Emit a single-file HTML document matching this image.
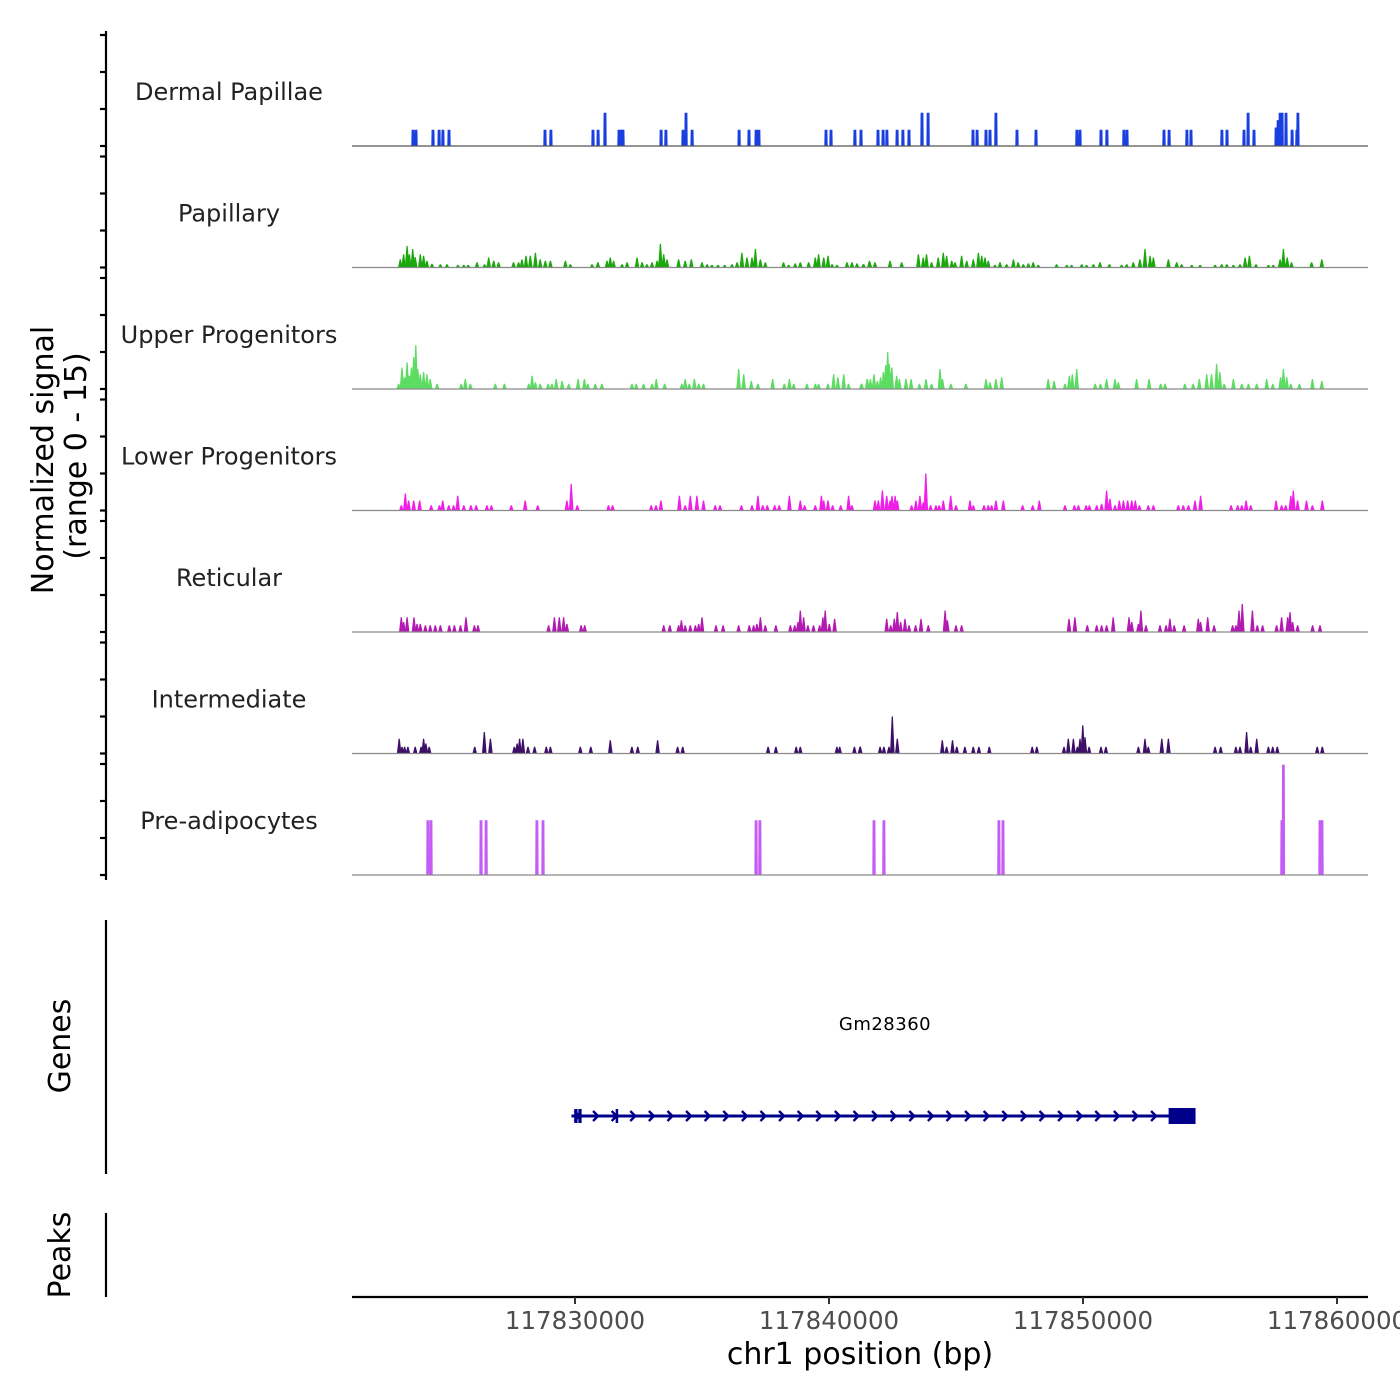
<!DOCTYPE html>
<html><head><meta charset="utf-8"><style>
html,body{margin:0;padding:0;background:#fff;}
svg{display:block;font-family:"DejaVu Sans","Liberation Sans",sans-serif;}
</style></head><body>
<svg id="chart" width="1400" height="1400" viewBox="0 0 1400 1400" xmlns="http://www.w3.org/2000/svg">
<g id="tracks"></g>
<g id="yaxis">
<line x1="106" y1="31" x2="106" y2="880" stroke="#000" stroke-width="2.2"/>
</g>
<text transform="translate(53,460) rotate(-90)" text-anchor="middle" font-size="30" fill="#000">Normalized signal</text>
<text transform="translate(86,456) rotate(-90)" text-anchor="middle" font-size="30" fill="#000">(range 0 - 15)</text>
<g>
<line x1="106" y1="920" x2="106" y2="1174" stroke="#000" stroke-width="2.2"/>
<text transform="translate(70,1046) rotate(-90)" text-anchor="middle" font-size="30">Genes</text>
<text x="885" y="1030" text-anchor="middle" font-size="18" fill="#000" letter-spacing="0.5">Gm28360</text>
<g id="gene"></g>
</g>
<g>
<line x1="106" y1="1213" x2="106" y2="1297" stroke="#000" stroke-width="2.2"/>
<text transform="translate(70,1255) rotate(-90)" text-anchor="middle" font-size="30">Peaks</text>
</g>
<g id="xaxis">
<line x1="352" y1="1297" x2="1368" y2="1297" stroke="#000" stroke-width="2.2"/>
</g>
<text x="860" y="1364" text-anchor="middle" font-size="30" fill="#000">chr1 position (bp)</text>
</svg>
<script>
// positions are kb offsets from 117,820,000 bp; values are normalized signal
const trackNames = ["Dermal Papillae","Papillary","Upper Progenitors","Lower Progenitors","Reticular","Intermediate","Pre-adipocytes"];
const trackColors = ["#1a3fe0","#1aa80c","#5ddc63","#f01ee8","#b21ab2","#3d0f68","#c45cf5"];
const xTicks = [117830000,117840000,117850000,117860000];

const dermalPos = [3.62,3.74,4.41,4.65,4.80,5.04,8.82,9.05,10.71,10.91,11.18,11.73,11.81,11.89,13.39,13.58,14.25,14.37,14.61,16.46,16.85,17.13,17.24,19.88,20.08,21.02,21.26,21.93,22.13,22.28,22.68,22.91,23.15,23.66,23.90,25.67,25.83,26.18,26.34,26.57,27.40,28.15,29.76,29.88,30.71,30.94,31.61,31.73,33.19,33.39,34.09,34.25,35.47,35.67,36.34,36.50,36.73,37.60,37.68,37.76,37.84,37.99,38.23,38.42,38.46];
const dermalVal = [2.2,2.2,2.2,2.2,2.2,2.2,2.2,2.2,2.2,2.2,4.5,2.2,2.2,2.2,2.2,2.2,2.2,4.5,2.2,2.2,2.2,2.2,2.2,2.2,2.2,2.2,2.2,2.2,2.2,2.2,2.2,2.2,2.2,4.5,4.5,2.2,2.2,2.2,2.2,4.5,2.2,2.2,2.2,2.2,2.2,2.2,2.2,2.2,2.2,2.2,2.2,2.2,2.2,2.2,2.2,4.5,2.2,2.5,3.5,4.5,4.5,4.5,2.2,2.2,4.5];

const papPos = [3.12,3.25,3.39,3.48,3.61,3.71,3.91,4.04,4.17,4.37,4.70,4.96,5.39,5.62,5.79,6.14,6.44,6.60,6.80,6.99,7.58,7.78,7.91,8.07,8.24,8.44,8.63,8.83,9.03,9.62,9.82,10.67,10.90,11.26,11.39,11.52,11.85,12.05,12.44,12.64,12.83,13.03,13.23,13.36,13.49,13.62,14.08,14.34,14.58,15.00,15.20,15.39,15.63,15.89,16.18,16.38,16.57,16.77,16.97,17.10,17.30,17.49,18.21,18.41,18.67,18.87,19.20,19.46,19.59,19.79,19.96,20.12,20.31,20.71,20.90,21.10,21.36,21.59,21.35,21.61,21.81,22.40,22.86,23.52,23.71,23.84,24.04,24.30,24.50,24.63,24.83,24.96,25.22,25.42,25.68,25.88,26.01,26.14,26.27,26.53,26.73,26.99,27.26,27.45,27.65,27.85,28.04,28.24,28.96,29.36,29.55,29.95,30.14,30.41,30.67,31.04,31.52,31.72,31.98,32.24,32.44,32.64,32.77,33.36,33.69,33.88,34.28,34.61,35.20,35.46,35.66,35.92,36.18,36.38,36.55,36.81,37.30,37.49,37.76,37.89,38.04,38.21,39.00,39.40];
const papVal = [1.1,1.8,2.9,1.8,2.5,1.4,1.8,1.6,0.9,0.5,0.45,0.45,0.35,0.35,0.35,0.7,0.45,1.35,0.9,0.7,0.7,0.7,1.1,1.6,1.6,2.0,1.1,0.9,0.9,0.9,0.45,0.45,0.7,0.9,1.35,0.9,0.45,0.7,1.35,0.7,0.45,0.7,0.9,3.2,1.8,1.1,1.1,0.9,1.1,0.7,0.45,0.35,0.35,0.35,0.45,0.7,2.0,1.35,1.35,2.5,1.1,0.7,0.7,0.35,0.55,0.7,0.7,1.35,1.8,1.35,1.6,0.45,0.35,0.7,0.7,0.55,0.45,0.9,0.45,0.7,0.7,0.9,0.7,1.8,1.35,1.8,0.7,1.35,2.0,1.6,0.9,0.7,1.6,0.9,1.1,2.0,1.6,1.35,0.9,0.35,0.7,0.45,1.1,0.7,0.45,0.55,0.7,0.35,0.45,0.35,0.35,0.45,0.35,0.45,0.7,0.45,0.35,0.45,0.7,1.1,2.5,1.6,1.35,1.1,0.7,0.45,0.35,0.35,0.35,0.45,0.45,0.35,0.45,1.35,1.6,0.45,0.35,0.35,1.1,2.5,1.35,0.7,0.7,1.1];

const upperPos = [3.06,3.19,3.29,3.39,3.48,3.56,3.65,3.73,3.81,3.91,4.04,4.17,4.30,4.57,5.52,5.68,5.88,6.86,7.22,8.18,8.31,8.44,8.63,8.94,9.09,9.26,9.49,9.75,10.12,10.37,10.50,10.80,11.06,12.24,12.41,12.70,13.03,13.20,13.53,14.21,14.34,14.50,14.70,14.87,15.06,16.44,16.64,16.94,17.20,17.78,18.24,18.44,18.61,19.13,19.46,19.59,19.96,20.18,20.35,20.58,20.77,21.27,21.50,21.63,21.29,21.51,21.77,21.90,22.03,22.14,22.23,22.31,22.37,22.47,22.66,22.77,23.03,23.23,23.56,23.82,24.04,24.37,24.47,24.80,25.39,26.18,26.34,26.57,26.80,28.63,28.86,29.29,29.46,29.58,29.75,30.48,30.69,30.93,31.26,31.39,32.11,32.60,33.06,33.23,34.01,34.34,34.58,34.87,35.06,35.26,35.39,35.56,35.92,36.25,36.51,36.84,37.23,37.47,37.78,37.89,38.02,38.18,38.52,39.03,39.40];
const upperVal = [0.7,2.9,1.6,3.6,1.8,2.9,4.3,5.9,2.7,2.0,2.3,2.0,1.35,0.7,0.7,1.35,0.7,0.7,0.7,0.7,1.8,0.9,0.7,0.7,0.7,1.35,1.1,0.7,1.35,1.35,0.7,0.7,0.7,0.7,0.7,0.7,0.7,1.35,0.7,0.7,1.35,0.7,1.35,0.7,0.7,2.7,2.0,1.1,0.7,1.35,0.7,1.35,0.7,0.7,0.7,0.7,0.7,2.0,1.6,2.0,0.7,0.7,1.35,1.35,0.7,1.35,2.0,1.1,1.6,2.3,3.2,5.0,3.4,2.9,1.8,1.35,1.35,1.35,0.7,1.35,0.7,2.7,1.35,0.7,0.7,1.35,0.9,1.35,1.6,1.35,1.1,0.7,1.8,2.0,2.7,0.7,0.7,1.35,1.35,0.9,1.35,1.35,0.7,0.7,0.7,0.7,1.35,2.0,2.0,3.4,2.3,0.7,1.35,0.7,0.7,0.7,1.35,0.7,1.6,2.7,1.6,0.7,0.7,1.35,1.1];

const lowerPos = [3.16,3.32,3.45,3.65,3.88,4.34,4.66,4.79,5.03,5.22,5.38,5.62,5.90,6.11,6.53,6.71,7.49,8.04,8.53,9.68,9.85,10.09,11.32,11.48,13.00,13.19,13.38,14.11,14.34,14.54,14.80,15.06,15.52,15.71,16.55,16.97,17.20,17.39,17.57,17.86,18.04,18.44,18.87,19.04,19.46,19.70,19.79,19.96,20.14,20.46,20.77,20.90,21.81,21.94,22.10,22.27,22.40,22.48,22.60,22.69,23.25,23.42,23.58,23.71,23.81,24.00,24.21,24.34,24.50,24.79,25.00,25.55,25.68,26.10,26.27,26.40,26.57,26.86,27.62,28.02,28.28,29.29,29.66,29.82,30.12,30.25,30.54,30.73,30.93,31.06,31.26,31.43,31.59,31.76,31.92,32.06,32.22,32.57,32.77,33.75,33.95,34.15,34.41,34.63,35.83,36.09,36.25,36.42,36.60,37.60,37.82,37.98,38.18,38.28,38.45,38.80,39.03,39.42];
const lowerVal = [0.7,2.3,1.35,1.35,1.35,0.7,0.7,1.35,0.7,0.7,2.0,0.7,0.7,0.7,0.7,0.7,0.7,1.35,0.7,1.35,3.6,0.7,0.7,0.7,0.7,0.7,1.35,2.0,0.7,2.0,2.0,1.35,0.7,0.7,0.7,0.7,2.0,0.7,0.7,0.7,0.7,2.0,1.35,0.7,0.7,2.0,1.35,1.35,0.7,0.7,2.0,0.7,1.35,1.35,2.7,2.0,1.35,2.0,2.0,1.35,0.7,1.35,2.0,1.1,5.0,0.7,0.7,0.7,1.35,2.0,0.7,1.35,0.7,0.7,0.7,0.7,1.35,1.35,0.7,0.7,1.35,0.7,0.7,0.7,0.7,0.7,0.7,0.9,2.7,1.6,0.7,1.35,1.35,1.35,1.35,1.35,0.7,0.7,0.7,0.7,0.7,0.7,1.35,2.0,0.7,0.7,0.7,1.35,0.7,1.35,0.7,0.7,2.0,2.7,1.35,1.35,0.7,1.35];

const retPos = [3.16,3.25,3.39,3.66,3.78,3.91,4.11,4.30,4.50,4.70,5.05,5.25,5.49,5.71,6.04,6.18,8.96,9.19,9.38,9.55,9.68,10.24,10.38,13.49,13.73,14.08,14.19,14.34,14.54,14.74,14.87,15.00,15.55,15.83,16.44,16.86,17.03,17.16,17.30,17.49,17.91,18.48,18.65,18.78,18.87,19.00,19.17,19.39,19.63,19.76,19.85,20.01,20.22,22.27,22.43,22.57,22.69,22.82,22.99,23.15,23.41,23.62,23.91,24.57,24.66,25.00,25.22,29.45,29.68,30.17,30.54,30.73,30.93,31.19,31.81,31.92,32.18,32.28,32.48,33.03,33.27,33.42,33.59,33.98,34.54,34.63,34.91,35.16,35.89,36.02,36.14,36.27,36.67,36.86,37.07,37.62,37.82,38.06,38.15,38.25,38.45,39.04,39.33];
const retVal = [2.0,1.35,2.0,2.0,1.1,1.1,0.9,0.9,0.9,0.9,0.9,0.9,0.9,2.0,0.9,0.9,0.9,2.0,2.0,2.0,1.1,0.9,0.9,0.9,0.9,0.9,1.6,0.9,0.9,0.9,1.1,2.0,0.9,0.9,0.9,0.9,0.9,1.1,2.0,0.9,0.9,0.9,0.9,1.35,2.9,2.0,0.9,0.9,0.9,2.0,2.9,1.1,1.8,1.8,0.9,1.8,2.7,1.35,1.8,0.9,0.9,1.8,0.9,2.9,1.6,0.9,0.9,1.8,2.0,0.9,0.9,0.9,0.9,2.0,2.0,1.35,1.1,2.9,0.9,0.9,0.9,1.8,0.9,0.9,1.8,1.35,2.0,0.9,0.9,0.9,2.9,3.8,2.9,0.9,0.9,0.9,2.0,2.0,2.7,1.35,0.9,0.9,0.9];

const interPos = [3.08,3.19,3.29,3.42,3.71,3.94,4.04,4.13,4.26,6.05,6.43,6.67,7.61,7.72,7.82,7.95,8.15,8.41,8.87,9.03,10.21,10.62,11.39,12.24,12.47,13.25,14.04,14.24,17.60,17.91,18.71,18.87,20.31,20.42,21.00,21.23,21.22,22.01,22.16,22.36,22.49,22.69,24.46,24.63,24.86,25.03,25.35,25.68,25.90,26.31,28.00,28.18,29.25,29.42,29.62,29.78,29.88,29.99,30.08,30.24,30.71,30.90,32.18,32.44,32.57,33.10,33.36,35.20,35.42,36.02,36.18,36.44,36.60,36.84,37.30,37.47,37.65,39.22,39.42];
const interVal = [2.0,0.9,0.9,0.9,0.9,0.9,2.0,1.35,0.9,0.9,2.9,2.0,0.9,1.35,2.0,2.0,0.9,0.9,0.9,0.9,0.9,0.9,1.8,0.9,0.9,1.8,0.9,0.9,0.9,0.9,0.9,0.9,0.9,0.9,0.9,0.9,0.9,0.9,0.9,0.9,5.0,2.0,1.8,0.9,1.8,0.9,0.9,0.9,0.9,0.9,0.9,0.9,0.9,2.0,2.0,0.9,2.0,3.8,2.2,0.9,0.9,0.9,0.9,2.0,0.9,2.0,2.0,0.9,0.9,0.9,0.9,2.9,0.9,2.0,0.9,0.9,0.9,0.9,0.9];

const preadPos = [4.21,4.33,6.30,6.50,8.50,8.74,17.13,17.28,21.77,22.16,26.69,26.85,37.83,37.89,39.33,39.41];
const preadVal = [7.4,7.4,7.4,7.4,7.4,7.4,7.4,7.4,7.4,7.4,7.4,7.4,7.4,14.9,7.4,7.4];

const trackPos = [dermalPos,papPos,upperPos,lowerPos,retPos,interPos,preadPos];
const trackVal = [dermalVal,papVal,upperVal,lowerVal,retVal,interVal,preadVal];
const blocky = [true,false,false,false,false,false,true];

const geneStart = 117829860, geneEnd = 117854430;
const geneExons = [[117829970,117830100],[117830130,117830260],[117831600,117831700],[117853370,117854430]];

const NS = "http://www.w3.org/2000/svg";
const X0 = 352, X1 = 1368, BP0 = 117821220, PXPERBP = 25.4/1000;
function xScale(bp){ return X0 + (bp - BP0) * PXPERBP; }
function xKb(kb){ return xScale(117820000 + kb*1000); }
const TRACK_H = 121.5, PXUNIT = 7.4;
function baseY(i){ return 146 + i*TRACK_H; }
function yScale(i, v){ return baseY(i) - v*PXUNIT; }

const tracksG = document.getElementById('tracks');
const yaxisG = document.getElementById('yaxis');
trackNames.forEach((name, i) => {
  const g = document.createElementNS(NS,'g');
  
  
  const lab = document.createElementNS(NS,'text');
  
  
  lab.setAttribute('x', 229); lab.setAttribute('y', baseY(i) - 46);
  lab.setAttribute('text-anchor','middle'); lab.setAttribute('font-size','24'); lab.setAttribute('fill','#222');
  lab.textContent = name;
  g.appendChild(lab);
  const pos = trackPos[i], val = trackVal[i];
  for (let k=0;k<pos.length;k++){
    const x = xKb(pos[k]); const y = yScale(i, val[k]); const b = baseY(i);
    const p = document.createElementNS(NS,'polygon');
    
    
    let pts;
    if (blocky[i]) pts = [[x-1.7,b],[x-1.4,y],[x+1.4,y],[x+1.7,b]];
    else pts = [[x-2.3,b],[x-0.6,y],[x+0.6,y],[x+2.3,b]];
    p.setAttribute('points', pts.map(q=>q[0].toFixed(1)+','+q[1].toFixed(1)).join(' '));
    p.setAttribute('fill', trackColors[i]);
    g.appendChild(p);
  }
  const bl = document.createElementNS(NS,'line');
  
  
  bl.setAttribute('x1', X0); bl.setAttribute('x2', X1);
  bl.setAttribute('y1', baseY(i)); bl.setAttribute('y2', baseY(i));
  bl.setAttribute('stroke', i===0 ? '#555' : '#8a8a8a'); bl.setAttribute('stroke-width','1.2');
  g.appendChild(bl);
  tracksG.appendChild(g);
  [0,5,10,15].forEach(v => {
    const t = document.createElementNS(NS,'line');
    
    
    const yy = yScale(i, v);
    t.setAttribute('x1', 100); t.setAttribute('x2', 106);
    t.setAttribute('y1', yy); t.setAttribute('y2', yy);
    t.setAttribute('stroke','#000'); t.setAttribute('stroke-width','2.2');
    yaxisG.appendChild(t);
  });
});

const xg = document.getElementById('xaxis');
xTicks.forEach(v => {
  const x = xScale(v);
  const t = document.createElementNS(NS,'line');
  
  
  t.setAttribute('x1', x); t.setAttribute('x2', x); t.setAttribute('y1', 1297); t.setAttribute('y2', 1304);
  t.setAttribute('stroke','#333'); t.setAttribute('stroke-width','2');
  xg.appendChild(t);
  const l = document.createElementNS(NS,'text');
  
  
  l.setAttribute('x', x); l.setAttribute('y', 1329);
  l.setAttribute('text-anchor','middle'); l.setAttribute('font-size','24.5'); l.setAttribute('fill','#4d4d4d');
  l.textContent = String(v);
  xg.appendChild(l);
});

const gg = document.getElementById('gene');
const GY = 1116, GC = '#00008b';
const gl = document.createElementNS(NS,'line');


gl.setAttribute('x1', xScale(geneStart)); gl.setAttribute('x2', xScale(geneEnd));
gl.setAttribute('y1', GY); gl.setAttribute('y2', GY);
gl.setAttribute('stroke', GC); gl.setAttribute('stroke-width','3');
gg.appendChild(gl);
for (let x = xScale(geneStart)+6; x < xScale(geneEnd)-26; x += 18.6) {
  const a = document.createElementNS(NS,'polyline');
  
  
  a.setAttribute('points', (x-3)+','+(GY-5)+' '+(x+2)+','+GY+' '+(x-3)+','+(GY+5));
  a.setAttribute('fill','none'); a.setAttribute('stroke', GC); a.setAttribute('stroke-width','2.4');
  gg.appendChild(a);
}
geneExons.forEach((e) => {
  const r = document.createElementNS(NS,'rect');
  
  
  const x1 = xScale(e[0]), x2 = xScale(e[1]);
  const big = (x2 - x1) > 8;
  r.setAttribute('x', x1); r.setAttribute('width', Math.max(2.5, x2-x1));
  r.setAttribute('y', big ? GY-8 : GY-7); r.setAttribute('height', big ? 16 : 14);
  r.setAttribute('fill', GC);
  gg.appendChild(r);
});
</script>
</body></html>
